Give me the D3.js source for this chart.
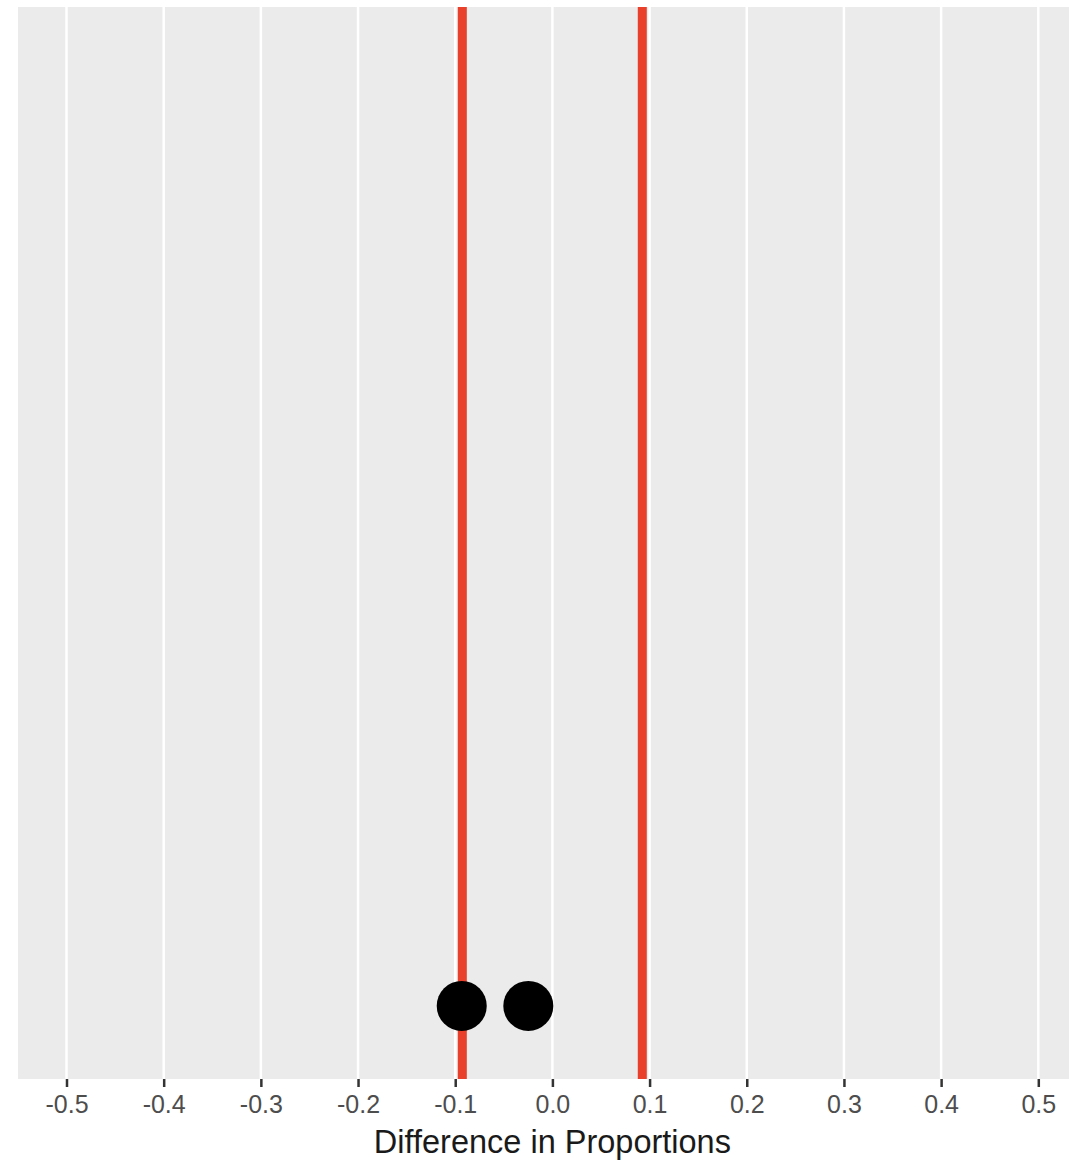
<!DOCTYPE html>
<html>
<head>
<meta charset="utf-8">
<script src="https://cdn.jsdelivr.net/npm/d3@7"></script>
<style>
  body { margin: 0; background: #fff; }
  svg { display: block; }
</style>
</head>
<body>
<svg id="chart" width="1069" height="1162"></svg>
<script>
// data
const tickValues = [-0.5, -0.4, -0.3, -0.2, -0.1, 0.0, 0.1, 0.2, 0.3, 0.4, 0.5];
const tickLabels = ["-0.5", "-0.4", "-0.3", "-0.2", "-0.1", "0.0", "0.1", "0.2", "0.3", "0.4", "0.5"];
const cutoffs = [-0.0927, 0.0925];
const pointX = [-0.0933, -0.0248];
const pointY = [0.025, 0.025];

const width = 1069;
const height = 1162;
const panel = { left: 18, right: 1069, top: 7, bottom: 1079 };

const svg = d3.select("#chart");

const x = d3.scaleLinear()
    .domain([-0.5, 0.5])
    .range([66.5, 1038.3]);

const y = d3.scaleLinear()
    .domain([-0.05, 1.05])
    .range([panel.bottom, panel.top]);

// panel background
svg.append("rect")
    .attr("x", panel.left)
    .attr("y", panel.top)
    .attr("width", panel.right - panel.left)
    .attr("height", panel.bottom - panel.top)
    .attr("fill", "#ebebeb");

// grid lines
svg.append("g")
    .selectAll("line")
    .data(tickValues)
    .enter()
    .append("line")
    .attr("x1", d => x(d))
    .attr("x2", d => x(d))
    .attr("y1", panel.top)
    .attr("y2", panel.bottom)
    .attr("stroke", "white")
    .attr("stroke-width", 2.5);

// red cutoff lines
svg.append("g")
    .selectAll("line")
    .data(cutoffs)
    .enter()
    .append("line")
    .attr("x1", d => x(d))
    .attr("x2", d => x(d))
    .attr("y1", panel.top)
    .attr("y2", panel.bottom)
    .attr("stroke", "#e8402a")
    .attr("stroke-width", 9);

// points
svg.append("g")
    .selectAll("circle")
    .data(pointX)
    .enter()
    .append("circle")
    .attr("cx", d => x(d))
    .attr("cy", (d, i) => y(pointY[i]))
    .attr("r", 25)
    .attr("fill", "black");

// x axis
const xAxis = d3.axisBottom(x)
    .tickValues(tickValues)
    .tickFormat((d, i) => tickLabels[i])
    .tickSize(8)
    .tickPadding(8);

const axisG = svg.append("g")
    .attr("transform", `translate(0,${panel.bottom})`)
    .call(xAxis);

axisG.select(".domain").remove();
axisG.selectAll(".tick line")
    .attr("stroke", "#333333")
    .attr("stroke-width", 2.5);
axisG.selectAll(".tick text")
    .attr("fill", "#4d4d4d")
    .style("font-family", "'Liberation Sans', Arial, sans-serif")
    .style("font-size", "25px");

// axis title
svg.append("text")
    .attr("x", x(0))
    .attr("y", 1153)
    .attr("text-anchor", "middle")
    .style("font-family", "'Liberation Sans', Arial, sans-serif")
    .style("font-size", "32.5px")
    .attr("fill", "#1a1a1a")
    .text("Difference in Proportions");
</script>
</body>
</html>
